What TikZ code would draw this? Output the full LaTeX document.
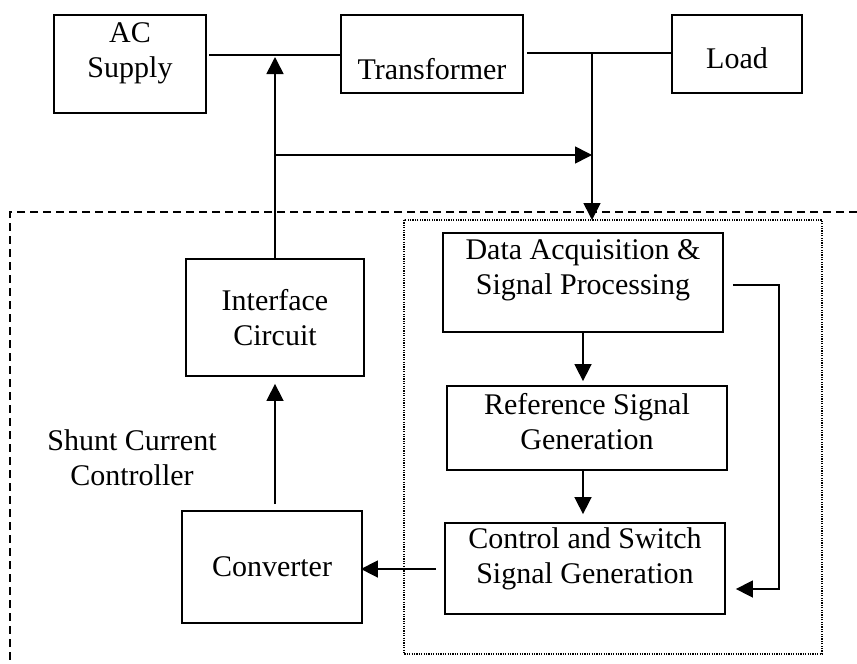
\documentclass[tikz,border=0pt]{standalone}
\usepackage{fontspec}
\setmainfont{Liberation Serif}
\usetikzlibrary{arrows.meta}
\begin{document}
\begin{tikzpicture}[x=0.5pt,y=-0.5pt,
  blk/.style={draw, line width=0.9pt, inner sep=0pt},
  txt/.style={align=center, inner sep=0pt, font=\fontsize{15}{17.5}\selectfont},
  wire/.style={line width=0.8pt},
  arr/.style={line width=0.8pt, -{Triangle[length=8.5pt,width=8.5pt]}},
  outer/.style={line width=0.6pt, dash pattern=on 4pt off 2.5pt},
  inner/.style={line width=0.7pt, dash pattern=on 0.6pt off 0.6pt}
]
\useasboundingbox (0,0) rectangle (857,664);

% controller enclosures
\coordinate (ot) at (857,212);
\coordinate (oc) at (10,212);
\coordinate (ob) at (10,664);
\draw[outer] (ot) -- (oc) -- (ob);
\draw[inner] (404,220) rectangle (822,654);

% blocks
\node[blk, minimum width=76pt, minimum height=49pt] (acs) at (130,64) {};
\node[blk, minimum width=91pt, minimum height=39pt] (trf) at (432,54) {};
\node[blk, minimum width=65pt, minimum height=39pt] (load) at (737,54) {};
\node[blk, minimum width=89pt, minimum height=58.5pt] (ifc) at (275,317.5) {};
\node[blk, minimum width=90pt, minimum height=56pt] (conv) at (272,567) {};
\node[blk, minimum width=140pt, minimum height=49.5pt] (daq) at (583,282.5) {};
\node[blk, minimum width=140pt, minimum height=42pt] (ref) at (587,428) {};
\node[blk, minimum width=140pt, minimum height=45.5pt] (csg) at (585,568.5) {};

% block captions
\node[txt] (tacs) at (130,53) {AC\\Supply};
\node[txt] (ttrf) at (432,69) {Transformer};
\node[txt] (tload) at (737,58) {Load};
\node[txt] (tifc) at (275,318) {Interface\\Circuit};
\node[txt] (tconv) at (272,567) {Converter};
\node[txt] (tdaq) at (583,270) {Data Acquisition \&\\Signal Processing};
\node[txt] (tref) at (587,422) {Reference Signal\\Generation};
\node[txt] (tcsg) at (585,559) {Control and Switch\\Signal Generation};
\node[txt] (tsh) at (132,458) {Shunt Current\\Controller};

% supply line and tapping points
\coordinate (j1) at (275,55);
\coordinate (j2) at (592,53);
\coordinate (j3) at (275,155);
\coordinate (j4) at (592,155);
\coordinate (fb1) at (779,285);
\coordinate (fb2) at (779,589);

\draw[wire, shorten <=1pt] (acs.east |- j1) -- (trf.west |- j1);
\draw[wire, shorten <=1.5pt] (trf.east |- j2) -- (load.west |- j2);
\draw[arr, shorten >=1pt] (ifc.north) -- (j1);
\draw[arr] (j3) -- (j4);
\draw[arr] (j2) -- (j2 |- 0,220);

% controller signal paths
\draw[arr, shorten <=3pt, shorten >=3.5pt] (ifc.south |- conv.north) -- (ifc.south);
\draw[arr, shorten >=2pt] (daq.south) -- (daq.south |- ref.north);
\draw[arr, shorten >=4pt] (ref.south -| daq.south) -- (csg.north -| daq.south);
\draw[arr, shorten <=4pt, shorten >=-1pt] (csg.west |- 0,569) -- (conv.east |- 0,569);
\draw[arr, shorten <=4.5pt, shorten >=5pt] (daq.east |- fb1) -- (fb1) -- (fb2) -- (csg.east |- fb2);
\end{tikzpicture}
\end{document}
